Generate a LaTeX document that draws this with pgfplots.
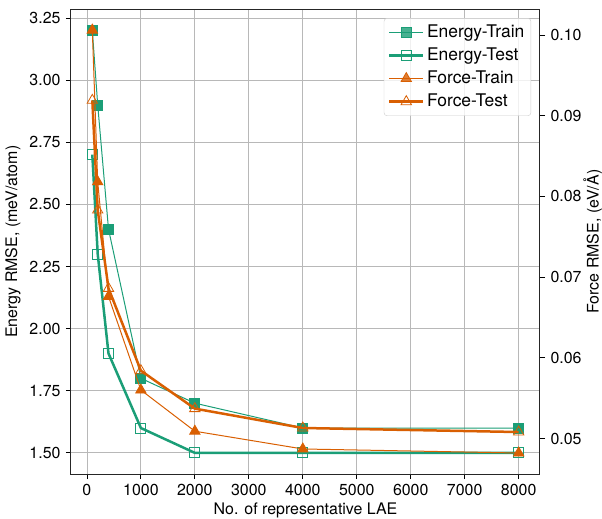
\documentclass[border=0pt]{standalone}
\usepackage{fontspec}
\setmainfont{TeX Gyre Heros}
\usepackage{pgfplots}
\pgfplotsset{compat=1.18}
\definecolor{dgreen}{HTML}{1B9E77}
\definecolor{dorange}{HTML}{D95F02}
\newcommand{\lf}{\fontsize{16}{19}\selectfont}
\newcommand{\legf}{\fontsize{17.5}{21}\selectfont}
\begin{document}
\lf
\begin{tikzpicture}
\path[use as bounding box] (-71bp,-45bp) rectangle (531bp,474bp);
\pgfplotsset{every axis/.append style={
  scale only axis, width=469bp, height=464.7bp,
  xmin=-295, xmax=8395, at={(0,0)}, anchor=south west,
  tick align=outside, major tick length=5bp,
  tick style={black, line width=0.8bp},
  axis line style={line width=1bp, black!85},
  /pgf/number format/assume math mode=true,
  font=\lf,
  legend image code/.code={\draw[mark repeat=2,mark phase=2,#1] plot coordinates {(0bp,0bp)(17bp,0bp)(34bp,0bp)};},
}}
\begin{axis}[
  ymin=1.415, ymax=3.285,
  xtick pos=bottom, ytick pos=left,
  xtick={0,1000,2000,3000,4000,5000,6000,7000,8000},
  ytick={1.5,1.75,2,2.25,2.5,2.75,3,3.25},
  scaled x ticks=false, scaled y ticks=false,
  xticklabel style={/pgf/number format/1000 sep={}},
  yticklabel style={/pgf/number format/.cd, fixed, fixed zerofill, precision=2},
  grid=major, grid style={line width=0.8bp, color=black!28},
  xlabel={No. of representative LAE},
  ylabel={Energy RMSE, (meV/atom)},
  xlabel style={yshift=4bp},
  ylabel style={yshift=-2bp},
]
\addplot[dgreen, line width=1bp, mark=square*, mark size=5bp, mark options={line width=0.8bp}]
  coordinates {(100,3.2)(200,2.9)(400,2.4)(1000,1.8)(2000,1.7)(4000,1.6)(8000,1.6)};
\addplot[dgreen, line width=2.5bp, mark=square, mark size=5bp, mark options={line width=0.8bp, fill=none}]
  coordinates {(100,2.7)(200,2.3)(400,1.9)(1000,1.6)(2000,1.5)(4000,1.5)(8000,1.5)};
\end{axis}
\begin{axis}[
  ymin=0.0456, ymax=0.10318,
  hide x axis, axis y line*=right,
  ytick={0.05,0.06,0.07,0.08,0.09,0.10},
  scaled y ticks=false,
  yticklabel style={/pgf/number format/.cd, fixed, fixed zerofill, precision=2},
  ylabel={Force RMSE, (eV/Å)},
  ylabel style={yshift=9bp},
  legend style={at={(0.981,0.981)}, anchor=north east, draw=black!20, rounded corners=3bp,
    fill=white, fill opacity=0.8, text opacity=1, row sep=3bp, inner sep=4bp,
    font=\legf, nodes={font=\legf, inner sep=2.5bp}},
  legend cell align=left,
]
\addlegendimage{dgreen, line width=1bp, mark=square*, mark size=5bp, mark options={line width=0.8bp}}
\addlegendentry{\legf Energy-Train}
\addlegendimage{dgreen, line width=2.5bp, mark=square, mark size=5bp, mark options={line width=0.8bp, fill=none}}
\addlegendentry{\legf Energy-Test}
\addplot[dorange, line width=1bp, mark=triangle*, mark size=6bp, mark options={line width=0.8bp}]
  coordinates {(100,0.1006)(200,0.0818)(400,0.0676)(1000,0.0560)(2000,0.0509)(4000,0.0487)(8000,0.0482)};
\addlegendentry{\legf Force-Train}
\addplot[dorange, line width=2.5bp, mark=triangle, mark size=6bp, mark options={line width=0.8bp, fill=none}]
  coordinates {(100,0.0919)(200,0.0783)(400,0.0686)(1000,0.0584)(2000,0.0537)(4000,0.0513)(8000,0.0508)};
\addlegendentry{\legf Force-Test}
\end{axis}
\end{tikzpicture}
\end{document}
